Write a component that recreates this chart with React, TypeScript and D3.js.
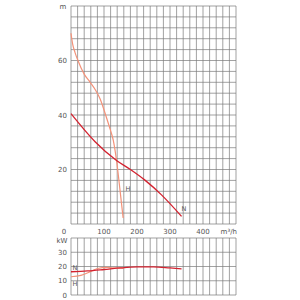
import React from 'react';
import * as d3 from 'd3';

// canvas
const width = 300;
const height = 300;

// upper chart (head)
const left = 71;
const right = 236;
const headTop = 6;
const headBottom = 224;
// lower chart (power)
const powerTop = 238;
const powerBottom = 295;

// data
const flowTicks = [100, 200, 300, 400];
const headTicks = [20, 40, 60];
const powerTicks = [0, 10, 20, 30];

const headNQ = [0, 73, 138, 180, 224, 275, 335];
const headNH = [40.5, 30.2, 23.3, 20, 16.1, 10.6, 2.8];

const headHQ = [0, 5, 12, 21, 40, 58, 75, 88, 105, 118, 128, 138, 148, 158];
const headHH = [70, 66, 63, 60, 55, 52, 49, 46, 40, 35, 30.8, 23.3, 13, 2.2];

const powerNQ = [0, 50, 100, 150, 200, 250, 300, 335];
const powerNP = [16.3, 16.9, 17.9, 19, 19.7, 19.8, 19, 18.3];

const powerHQ = [0, 30, 60, 80, 110, 140, 160];
const powerHP = [12.8, 13.8, 16.5, 18.6, 19.4, 18.8, 18.8];

const redColor = '#d3222f';
const orangeColor = '#f39279';
const gridColor = '#7a7a7a';
const textColor = '#555';

const x = d3.scaleLinear().domain([0, 500]).range([left, right]);
const yHead = d3.scaleLinear().domain([0, 80]).range([headBottom, headTop]);
const yPower = d3.scaleLinear().domain([0, 40]).range([powerBottom, powerTop]);

const zip = (a: number[], b: number[]) => a.map((v, i) => [v, b[i]] as [number, number]);

const headLine = d3
  .line<[number, number]>()
  .x((d) => x(d[0]))
  .y((d) => yHead(d[1]))
  .curve(d3.curveMonotoneX);

const powerLine = d3
  .line<[number, number]>()
  .x((d) => x(d[0]))
  .y((d) => yPower(d[1]))
  .curve(d3.curveMonotoneX);

const vLines = d3.range(0, 501, 20);
const hHeadLines = d3.range(0, 81, 4);
const hPowerLines = d3.range(0, 41, 10);

const font = { fontFamily: 'DejaVu Sans, sans-serif', fontSize: 7, fill: textColor };

export default function App() {
  return (
    <svg
      width={width}
      height={height}
      style={{ position: 'absolute', left: 0, top: 0, background: '#fff' }}
    >
      {/* head grid */}
      <g stroke={gridColor} strokeWidth={0.7}>
        {vLines.map((v) => (
          <line key={'hv' + v} x1={x(v)} x2={x(v)} y1={headTop} y2={headBottom} />
        ))}
        {hHeadLines.map((v) => (
          <line key={'hh' + v} x1={left} x2={right} y1={yHead(v)} y2={yHead(v)} />
        ))}
      </g>
      {/* power grid */}
      <g stroke={gridColor} strokeWidth={0.7}>
        {vLines.map((v) => (
          <line key={'pv' + v} x1={x(v)} x2={x(v)} y1={powerTop} y2={powerBottom} />
        ))}
        {hPowerLines.map((v) => (
          <line key={'ph' + v} x1={left} x2={right} y1={yPower(v)} y2={yPower(v)} />
        ))}
      </g>

      {/* curves */}
      <path d={headLine(zip(headHQ, headHH)) || ''} fill="none" stroke={orangeColor} strokeWidth={1.2} />
      <path d={headLine(zip(headNQ, headNH)) || ''} fill="none" stroke={redColor} strokeWidth={1.3} />
      <path d={powerLine(zip(powerHQ, powerHP)) || ''} fill="none" stroke={orangeColor} strokeWidth={1.2} />
      <path d={powerLine(zip(powerNQ, powerNP)) || ''} fill="none" stroke={redColor} strokeWidth={1.3} />

      {/* head axis labels */}
      <text x={63} y={9} {...font} textAnchor="middle">m</text>
      {headTicks.map((t) => (
        <text key={'ht' + t} x={67} y={yHead(t) + 2.5} {...font} textAnchor="end">
          {t}
        </text>
      ))}
      <text x={64} y={234} {...font} textAnchor="middle">0</text>
      {flowTicks.map((t) => (
        <text key={'ft' + t} x={x(t)} y={234} {...font} textAnchor="middle">
          {t}
        </text>
      ))}
      <text x={237} y={234} {...font} textAnchor="end">
        m³/h
      </text>

      {/* power axis labels */}
      <text x={62} y={243} {...font} textAnchor="middle">kW</text>
      {powerTicks.map((t) => (
        <text key={'pt' + t} x={67} y={yPower(t) + 2.5} {...font} textAnchor="end">
          {t}
        </text>
      ))}

      {/* curve labels */}
      <text x={128} y={191} {...font} fontSize={6.5} textAnchor="middle">H</text>
      <text x={184} y={211} {...font} fontSize={6.5} textAnchor="middle">N</text>
      <text x={75} y={270} {...font} fontSize={6.5} textAnchor="middle">N</text>
      <text x={75} y={286} {...font} fontSize={6.5} textAnchor="middle">H</text>
    </svg>
  );
}
